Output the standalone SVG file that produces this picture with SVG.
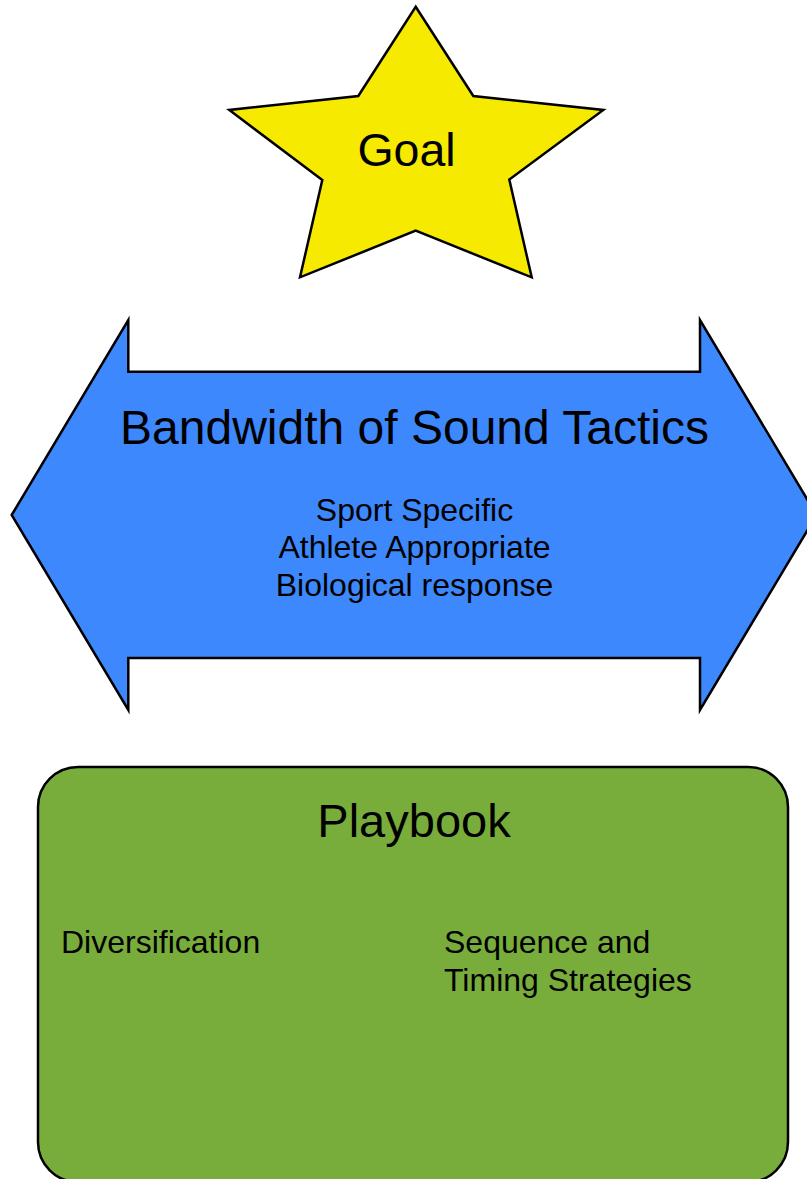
<svg xmlns="http://www.w3.org/2000/svg" width="807" height="1179" viewBox="0 0 807 1179">
  <style>
    .shape { stroke: #000; stroke-width: 2.5; stroke-linejoin: miter; }
    .txt { font-family: "Liberation Sans", Arial, Helvetica, sans-serif; fill: #000; }
    .big { font-size: 47px; text-anchor: middle; }
    .small { font-size: 32px; }
    .mid { text-anchor: middle; }
  </style>
  <rect width="807" height="1179" fill="#fff"/>

  <!-- Goal star -->
  <g id="goal">
    <polygon class="shape" fill="#F5EA00"
      points="415.7,6.7 473.3,96 603.3,110 509.3,179.5 531.7,277.3 415.7,230.7 300,277.3 322.3,180 229.3,110 358.3,96"/>
    <text class="txt big" x="406.5" y="166" style="font-size:46.5px">Goal</text>
  </g>

  <!-- Double-headed arrow: bandwidth of tactics -->
  <g id="bandwidth">
    <polygon class="shape" fill="#3D88FD"
      points="11.7,515 128.3,320 128.3,371.7 700,371.7 700,320 816.6,515 700,710 700,658 128.3,658 128.3,710"/>
    <text class="txt big" x="414.5" y="444" style="font-size:48px">Bandwidth of Sound Tactics</text>
    <text class="txt small mid" x="414.5" y="520.7">Sport Specific</text>
    <text class="txt small mid" x="414.5" y="558.3">Athlete Appropriate</text>
    <text class="txt small mid" x="414.5" y="596">Biological response</text>
  </g>

  <!-- Playbook panel -->
  <g id="playbook">
    <rect class="shape" fill="#78AD3C" x="38" y="767" width="750" height="415" rx="40" ry="40" stroke-width="3"/>
    <text class="txt big" x="414" y="836.7">Playbook</text>
    <text class="txt small" x="61" y="953.3">Diversification</text>
    <text class="txt small" x="444" y="953.3">Sequence and</text>
    <text class="txt small" x="444" y="991">Timing Strategies</text>
  </g>

  <!-- no connectors in this figure -->
  <g id="connectors"/>
</svg>
